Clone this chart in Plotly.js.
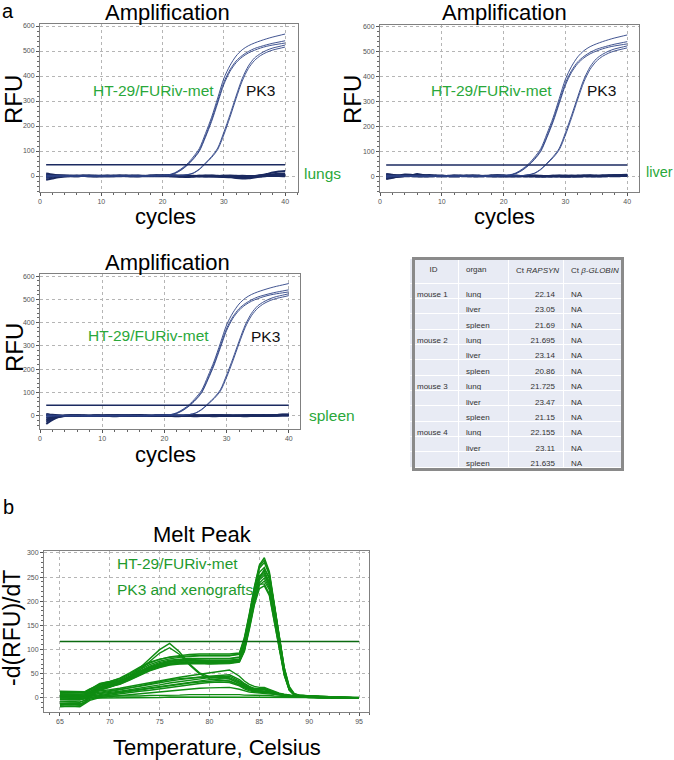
<!DOCTYPE html>
<html>
<head>
<meta charset="utf-8">
<script src="https://cdn.plot.ly/plotly-3.0.1.min.js"></script>
<style>
  html, body { margin: 0; padding: 0; background: #ffffff; }
  #chart { width: 674px; height: 760px; }
</style>
</head>
<body>
<div id="chart"></div>
<script>
// ---------- qPCR amplification data (RFU per cycle) ----------
const cycles = [1,2,3,4,5,6,7,8,9,10,11,12,13,14,15,16,17,18,19,20,
                21,22,23,24,25,26,27,28,29,30,31,32,33,34,35,36,37,38,39,40];

// amplified samples: HT-29/FURiv-met (early) and PK3 (later)
const ampHT1 = [-6,-2,0,1,0,1,0,-1,0,1,0,1,2,1,0,1,2,2,3,3,
                5,13,28,48,76,110,170,235,312,390,442,480,505,521,532,541,549,556,562,568];
const ampHT2 = [4,2,1,0,1,0,-1,0,1,0,-1,0,1,2,1,0,1,1,2,2,
                4,11,25,44,70,103,160,225,300,375,425,460,482,498,510,518,525,531,536,541];
const ampHT3 = [-3,-1,0,1,0,-1,0,1,0,-1,0,1,0,-1,0,1,0,1,1,2,
                4,10,23,42,67,99,155,218,292,366,418,453,476,492,503,512,519,524,528,532];
const ampPK1 = [2,1,0,-1,0,1,0,-1,0,1,0,-1,0,1,0,-1,0,1,0,1,
                1,1,2,5,12,28,52,78,112,175,245,320,390,440,472,490,503,512,518,524];
const ampPK2 = [-1,0,1,0,-1,0,1,0,-1,0,1,0,-1,0,1,0,-1,0,1,1,
                1,1,2,5,11,26,49,74,106,165,235,310,380,430,462,482,495,504,510,516];
const amplified = [ampHT1, ampHT2, ampHT3, ampPK1, ampPK2];

// non-amplified tissue samples, one set per organ
const lungFlat = [
  [-8,-3,1,2,0,-1,1,2,0,-1,0,1,2,1,0,-1,0,2,3,2,0,-2,-3,-4,-3,-2,-1,0,-2,-4,-5,-6,-6,-4,-1,3,8,14,18,20],
  [5,3,2,0,-1,0,1,0,-1,0,1,0,-1,0,1,2,1,0,-1,0,1,0,-1,-2,-1,0,1,2,1,0,-1,-2,-3,-2,0,2,4,7,9,10],
  [-15,-10,-5,-2,0,1,0,-1,0,1,2,1,0,-1,-2,-1,0,1,0,-1,0,1,0,-1,0,1,0,-1,0,1,0,-1,-2,-1,0,1,2,2,3,3],
  [10,6,3,1,0,-1,0,1,2,1,0,-1,0,1,0,-1,0,1,2,3,4,3,2,1,0,-1,-2,-1,0,-1,-3,-8,-10,-9,-6,-3,0,2,3,4],
  [-4,-2,0,1,2,1,0,-1,-2,-1,0,1,2,1,0,0,-1,0,1,0,-1,0,1,2,1,0,-1,-2,-3,-2,-1,0,1,0,-1,0,1,0,0,-1],
  [2,0,-2,-1,0,1,2,1,0,-1,-2,-1,0,1,2,1,0,-1,0,1,0,-1,-2,-1,0,1,2,1,0,1,2,1,0,-1,0,1,2,1,0,1]
];
const liverFlat = [
  [-10,-6,-2,0,1,2,3,4,2,0,1,2,1,0,-1,0,1,2,3,2,1,0,-1,0,1,0,-1,0,1,0,-1,-2,-1,0,1,2,3,3,4,4],
  [8,5,3,6,5,2,0,1,2,1,0,-1,0,1,2,1,0,1,2,1,0,1,0,-1,0,-1,-2,-1,0,1,0,1,2,3,2,1,2,3,4,5],
  [-4,-2,0,1,0,-1,0,1,0,-1,0,1,2,1,0,-1,0,1,0,-1,-2,-1,0,1,0,-1,0,1,2,1,0,-1,0,1,0,-1,0,1,2,2],
  [3,1,-1,0,2,8,4,1,0,-1,0,1,0,-1,0,1,0,-1,-2,-1,0,1,0,-1,-2,-1,0,-1,-2,-3,-2,-1,0,-1,0,1,0,-1,0,1],
  [-12,-7,-3,-1,0,1,0,-1,0,1,0,-1,0,1,2,1,0,-1,0,1,0,1,0,1,2,1,0,-1,0,1,2,1,0,-1,-2,-1,0,1,0,0],
  [6,4,2,1,0,-1,-2,-1,0,1,0,-1,0,1,0,-1,0,1,2,1,0,-1,0,1,0,-1,0,1,0,-1,0,1,2,1,0,1,2,3,3,3]
];
const spleenFlat = [
  [-35,-18,-6,-1,0,1,0,-1,0,1,2,1,0,-1,0,1,0,-1,0,1,0,-1,0,1,0,-1,0,1,2,1,0,-1,0,1,2,3,2,3,4,4],
  [-25,-12,-4,0,1,0,-1,0,1,0,-1,0,1,2,1,0,-1,0,1,0,-1,-2,-1,0,1,0,-1,0,1,0,-1,0,1,2,1,0,1,2,3,3],
  [8,4,2,1,0,1,2,1,0,-1,0,1,0,1,2,3,2,1,0,-1,0,1,0,-1,0,1,2,3,2,1,0,-1,0,1,0,-1,0,1,2,2],
  [-10,-5,-2,0,1,0,-1,0,1,0,-1,-2,-1,0,1,0,-1,0,1,2,1,0,-1,0,1,0,-1,-2,-1,0,1,2,1,0,-1,0,1,0,1,1],
  [3,1,0,-1,0,1,0,-1,0,1,2,1,0,-1,0,1,0,-1,0,1,2,1,0,-1,-2,-1,0,1,0,-1,0,1,2,3,2,1,2,3,5,5],
  [-18,-9,-3,0,2,1,0,-1,0,-1,0,1,2,1,0,-1,0,-1,0,1,0,-1,0,1,2,1,0,-1,0,1,0,-1,-2,-1,0,1,0,1,2,2]
];
const ampThreshold = 45;

// ---------- melt curve data, -d(RFU)/dT per temperature ----------
const temps = [65,66,67,67.5,68,69,70,71,72,73,74,75,76,77,78,79,80,81,82,83,
               83.5,84,84.5,85,85.5,86,86.5,87,87.5,88,88.5,89,90,91,92,93,94,95];

// specific product (HT-29/FURiv-met, PK3 and xenografts)
const meltSpecific = [
  [12,12,11,12,18,30,34,40,50,62,72,80,85,88,90,91,91,91,91,93,125,175,230,275,290,262,195,125,62,22,9,6,4,3,2,2,1,1],
  [10,10,10,11,17,28,32,38,48,59,69,76,81,84,86,87,87,87,87,90,120,170,225,268,280,255,188,120,60,21,8,5,4,3,2,1,1,0],
  [6,6,5,6,13,26,30,36,45,56,66,73,78,80,82,82,82,82,82,85,115,165,218,260,270,246,180,115,57,20,8,5,4,3,2,1,1,0],
  [3,4,3,5,12,24,29,34,43,53,63,70,75,77,78,78,78,78,78,81,110,160,212,252,262,240,175,112,55,19,7,5,3,3,2,1,1,0],
  [0,1,0,2,10,22,27,33,42,51,61,68,72,74,75,75,75,75,75,79,106,156,208,248,258,236,172,110,54,19,7,5,3,2,2,1,1,0],
  [-4,-3,-4,-2,7,21,26,31,40,50,60,67,71,73,74,74,74,74,74,77,103,152,204,244,254,232,170,108,53,18,7,4,3,2,2,1,0,0],
  [-8,-7,-8,-5,5,20,25,30,39,49,59,66,70,72,73,73,73,72,73,76,100,148,200,238,248,228,166,106,52,18,7,4,3,2,1,1,0,0],
  [-12,-11,-12,-8,3,18,24,29,38,47,57,64,69,71,72,72,71,71,72,75,98,145,195,233,242,224,163,104,50,17,6,4,3,2,1,1,0,0],
  [14,13,12,13,19,27,31,36,44,54,64,71,76,79,80,81,81,81,81,84,108,155,205,235,236,215,158,100,48,16,6,4,3,2,1,1,0,0],
  [-15,-14,-15,-10,1,17,23,28,37,46,56,63,68,70,71,71,70,70,71,74,96,142,192,226,232,212,156,98,47,16,6,4,3,2,1,1,0,0],
  [5,5,4,6,12,23,28,33,42,52,62,69,74,76,77,77,77,77,77,79,100,148,202,248,266,250,192,125,63,24,9,6,4,3,2,1,1,0],
  [8,8,7,9,16,29,34,41,52,64,74,80,84,86,87,88,88,88,88,91,122,172,228,272,285,258,190,120,58,20,8,5,4,3,2,2,1,1]
];
// non-specific / negative tissue samples
const meltOther = [
  [10,10,9,10,12,14,17,20,24,28,32,36,40,43,46,49,52,55,58,45,35,28,24,22,22,18,14,10,8,6,4,3,2,2,1,1,1,0],
  [6,6,5,6,9,12,14,17,20,24,28,32,35,38,41,43,45,47,48,38,30,24,20,19,20,16,12,9,7,5,4,3,2,2,1,1,0,0],
  [2,2,1,3,6,9,11,14,17,20,24,27,31,34,37,40,42,43,42,33,26,21,18,17,17,14,11,8,6,5,3,3,2,1,1,1,0,0],
  [-3,-3,-4,-1,3,7,9,12,15,18,21,24,27,30,33,36,38,40,39,30,24,19,16,15,15,13,10,8,6,4,3,2,2,1,1,0,0,0],
  [-8,-8,-9,-5,0,5,8,10,13,16,19,22,25,28,31,33,35,36,35,27,21,17,14,13,13,11,9,7,5,4,3,2,2,1,1,0,0,0],
  [-14,-13,-14,-9,-3,3,6,8,11,14,16,19,22,25,28,30,32,33,32,25,19,15,13,12,12,10,8,6,5,4,3,2,1,1,1,0,0,0],
  [4,4,3,4,4,3,3,3,4,4,5,5,6,6,7,7,8,8,8,7,6,6,5,5,5,5,4,4,3,3,2,2,1,1,1,0,0,0],
  [-18,-17,-18,-12,-5,1,3,5,7,9,11,13,15,17,19,20,21,22,22,18,15,12,11,10,10,9,7,6,5,4,3,2,1,1,1,0,0,0],
  [8,8,7,8,12,18,24,32,45,62,82,100,113,95,70,52,44,42,40,30,24,19,16,15,15,13,10,8,6,5,4,3,2,1,1,1,0,0],
  [4,4,3,5,10,16,22,30,42,58,76,93,104,90,68,50,40,37,35,27,22,18,15,14,14,12,9,7,6,4,3,2,2,1,1,0,0,0],
  [0,0,-1,1,5,10,13,17,21,25,30,34,38,40,42,43,43,44,45,35,28,22,19,18,18,15,11,8,6,5,4,3,2,1,1,1,0,0],
  [-2,-2,-3,-1,0,0,0,1,1,1,1,1,2,2,2,2,2,2,2,2,2,2,2,2,2,2,2,1,1,1,1,1,1,0,0,0,0,0]
];
const meltThreshold = 117;

// ---------- Ct table ----------
const mouseIds  = ['mouse 1','','','mouse 2','','','mouse 3','','','mouse 4','',''];
const organs    = ['lung','liver','spleen','lung','liver','spleen','lung','liver','spleen','lung','liver','spleen'];
const ctRapsyn  = [22.14,23.05,21.69,21.695,23.14,20.86,21.725,23.47,21.15,22.155,23.11,21.635];
const ctGlobin  = ['NA','NA','NA','NA','NA','NA','NA','NA','NA','NA','NA','NA'];
const tableHeader = ['ID','organ','Ct <i>RAPSYN</i>','Ct <i>β-GLOBIN</i>'];

// ---------- styling ----------
const W = 674, H = 760;
const px = v => v / W;
const py = v => 1 - v / H;
const NAVY = '#2d4284';
const NAVY_DARK = '#1b2a60';
const GREEN_TXT = '#2aa83a';
const MELT_GREEN = '#0f8c12';
const FONT = 'Liberation Sans, Arial, sans-serif';
const nbsp = s => s.replace(/ /g, '\u00a0');   // keep table entries on one line

const traces = [];

function ampPanel(flatSet, xa, ya) {
  flatSet.forEach(y => traces.push({
    type: 'scatter', mode: 'lines', x: cycles, y: y, xaxis: xa, yaxis: ya,
    line: { color: NAVY_DARK, width: 2, shape: 'spline', smoothing: 0.6 }, hoverinfo: 'skip'
  }));
  amplified.forEach(y => traces.push({
    type: 'scatter', mode: 'lines', x: cycles, y: y, xaxis: xa, yaxis: ya,
    line: { color: NAVY, width: 0.9, shape: 'spline', smoothing: 0.8 }, hoverinfo: 'skip'
  }));
  traces.push({
    type: 'scatter', mode: 'lines', x: [cycles[0], cycles[cycles.length - 1]],
    y: [ampThreshold, ampThreshold], xaxis: xa, yaxis: ya,
    line: { color: NAVY_DARK, width: 1.5 }, hoverinfo: 'skip'
  });
}
ampPanel(lungFlat, 'x', 'y');
ampPanel(liverFlat, 'x2', 'y2');
ampPanel(spleenFlat, 'x3', 'y3');

meltOther.concat(meltSpecific).forEach(y => traces.push({
  type: 'scatter', mode: 'lines', x: temps, y: y, xaxis: 'x4', yaxis: 'y4',
  line: { color: MELT_GREEN, width: 1.4 }, hoverinfo: 'skip'
}));
traces.push({
  type: 'scatter', mode: 'lines', x: [temps[0], temps[temps.length - 1]],
  y: [meltThreshold, meltThreshold], xaxis: 'x4', yaxis: 'y4',
  line: { color: '#0b6a10', width: 1.5 }, hoverinfo: 'skip'
});

traces.push({
  type: 'table',
  domain: { x: [px(409), px(621)], y: [py(471), py(258)] },
  columnwidth: [49, 50, 55, 58],
  header: {
    values: tableHeader.map(nbsp),
    align: ['center', 'left', 'left', 'left'],
    fill: { color: '#e8ebf4' },
    line: { color: '#ffffff', width: 1 },
    font: { family: FONT, size: 8, color: '#333' },
    height: 21
  },
  cells: {
    values: [mouseIds.map(nbsp), organs, ctRapsyn.map(String), ctGlobin],
    align: ['left', 'left', 'right', 'left'],
    fill: { color: '#e8ebf4' },
    line: { color: '#ffffff', width: 1 },
    font: { family: FONT, size: 8, color: '#333' },
    height: 15.36
  }
});

function axis(domain, range, dtick, minor, anchor) {
  return {
    domain: domain, range: range, anchor: anchor, dtick: dtick, tick0: 0,
    ticks: 'outside', ticklen: 3, tickcolor: '#555', tickwidth: 1,
    tickfont: { family: FONT, size: 7, color: '#555' },
    showgrid: true, gridcolor: '#b5b5b5', griddash: 'dot', gridwidth: 1,
    showline: true, mirror: true, linecolor: '#808080', linewidth: 1,
    zeroline: false, fixedrange: true,
    minor: { dtick: minor, ticks: 'outside', ticklen: 2, tickcolor: '#666', showgrid: false }
  };
}

const ann = (text, x, y, size, color, extra) => Object.assign({
  text: text, x: px(x), y: py(y), xref: 'paper', yref: 'paper',
  xanchor: 'center', yanchor: 'middle', showarrow: false,
  font: { family: FONT, size: size, color: color }
}, extra || {});

const annotations = [
  ann('a', 8, 11, 20, '#000'),
  ann('b', 8, 507, 20, '#000'),
  ann('Amplification', 167, 13, 22, '#000'),
  ann('Amplification', 505, 13, 22, '#000'),
  ann('Amplification', 167, 262, 22, '#000'),
  ann('Melt Peak', 202, 534, 22, '#000'),
  ann('RFU', 14, 100, 24, '#000', { textangle: -90 }),
  ann('RFU', 353, 100, 24, '#000', { textangle: -90 }),
  ann('RFU', 14, 348, 24, '#000', { textangle: -90 }),
  ann('-d(RFU)/dT', 12, 628, 23, '#000', { textangle: -90 }),
  ann('cycles', 165, 217, 22, '#000'),
  ann('cycles', 505, 217, 22, '#000'),
  ann('cycles', 165, 454, 22, '#000'),
  ann('Temperature, Celsius', 217, 747, 22, '#000'),
  ann('HT-29/FURiv-met', 153, 90, 15.5, GREEN_TXT),
  ann('HT-29/FURiv-met', 491, 90, 15.5, GREEN_TXT),
  ann('HT-29/FURiv-met', 148, 335, 15.5, GREEN_TXT),
  ann('PK3', 260, 90, 15.5, '#111'),
  ann('PK3', 601, 90, 15.5, '#111'),
  ann('PK3', 265, 336, 15.5, '#111'),
  ann('lungs', 302, 174, 15.5, GREEN_TXT, { xanchor: 'left' }),
  ann('liver', 644, 172, 14.5, GREEN_TXT, { xanchor: 'left' }),
  ann('spleen', 307, 415, 15.5, GREEN_TXT, { xanchor: 'left' }),
  ann('HT-29/FURiv-met', 115, 563, 15.5, '#1f9a2e', { xanchor: 'left' }),
  ann('PK3 and xenografts', 115, 589, 15.5, '#1f9a2e', { xanchor: 'left' })
];

const layout = {
  width: W, height: H, autosize: false,
  margin: { l: 0, r: 0, t: 0, b: 0 },
  paper_bgcolor: '#ffffff', plot_bgcolor: '#ffffff',
  showlegend: false,
  font: { family: FONT },
  xaxis:  axis([px(40), px(298)], [0, 42.1], 10, 2, 'y'),
  yaxis:  axis([py(192), py(24)], [-64, 608], 100, 20, 'x'),
  xaxis2: axis([px(380), px(639)], [0, 41.9], 10, 2, 'y2'),
  yaxis2: axis([py(192), py(25)], [-64, 608], 100, 20, 'x2'),
  xaxis3: axis([px(40), px(300)], [0, 41.8], 10, 2, 'y3'),
  yaxis3: axis([py(429), py(274)], [-57, 609], 100, 20, 'x3'),
  xaxis4: axis([px(44), px(369)], [63.4, 96], 5, 1, 'y4'),
  yaxis4: axis([py(712), py(551)], [-29, 304], 50, 10, 'x4'),
  annotations: annotations,
  shapes: [{
    type: 'rect', xref: 'paper', yref: 'paper',
    x0: px(413.5), x1: px(622.5), y0: py(469.5), y1: py(258.5),
    line: { color: '#8a8a8a', width: 3 }, fillcolor: 'rgba(0,0,0,0)'
  }]
};

Plotly.newPlot('chart', traces, layout, { staticPlot: true, displayModeBar: false });
</script>
</body>
</html>
